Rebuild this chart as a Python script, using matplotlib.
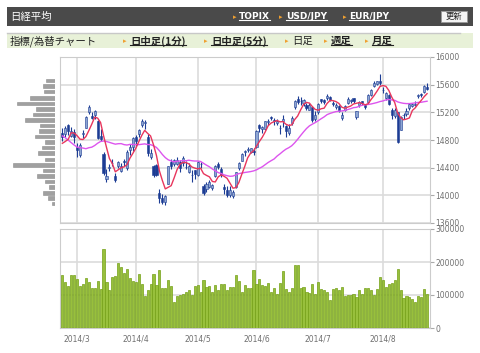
import numpy as np
import pandas as pd
import matplotlib
matplotlib.use('Agg')
import matplotlib.pyplot as plt
from matplotlib.patches import Rectangle
from matplotlib.lines import Line2D

plt.rcParams['font.family'] = ['DejaVu Sans']
JP = ['Noto Sans CJK JP', 'DejaVu Sans']

# Nikkei 225 daily, 2014-02-24 .. 2014-08-22
holidays = ['2014-03-21', '2014-04-29', '2014-05-05', '2014-05-06', '2014-07-21']

# closes of the 24 sessions before the first candle (for the moving averages)
prior_close = [15641, 15795, 15820, 15695, 15391, 14972, 15006, 15384, 14915, 14915,
               14619, 14008, 14181, 14155, 14463, 14719, 14800, 14535, 14313, 14393,
               14843, 14766, 14450, 14865]

opens = [14900, 14890, 15010, 14860, 14920,
         14700, 14590, 14890, 14980, 15210, 15150, 15160, 15080, 14860, 14600,
         14240, 14390, 14470, 14280, 14420, 14350, 14500, 14390, 14650, 14700,
         14840, 14880, 15010, 15040, 14850, 14560, 14430, 14440, 14040, 13960,
         13900, 14170, 14480, 14460, 14450, 14480, 14470, 14410, 14340, 14290, 14360,
         14290, 14460, 14140, 14090, 14120, 14110, 14280, 14460, 14380, 14120,
         14080, 14000, 13990, 14120, 14390, 14500, 14630, 14660, 14630, 14640,
         14700, 15010, 14960, 14960, 15060, 15130, 15090, 15040, 14980, 15070,
         15000, 14900, 15050, 15270, 15390, 15360, 15340, 15310, 15240, 15280, 15100,
         15200, 15390, 15380, 15400, 15420, 15330, 15270, 15290, 15120, 15230,
         15340, 15370, 15400, 15130, 15300, 15360, 15310, 15350, 15450, 15580, 15610, 15660,
         15530, 15400, 15450, 15240, 15150, 15200, 14950, 15160, 15170, 15260,
         15290, 15300, 15440, 15470, 15490, 15570]
highs = [14980, 15000, 15030, 14990, 14960,
         14760, 14760, 14950, 15140, 15310, 15200, 15230, 15090, 14960, 14620,
         14380, 14460, 14520, 14320, 14500, 14470, 14520, 14650, 14740, 14850,
         14870, 14960, 15100, 15090, 14880, 14670, 14440, 14450, 14090, 14020,
         14000, 14420, 14520, 14530, 14560, 14510, 14570, 14500, 14470, 14370, 14370,
         14500, 14480, 14160, 14200, 14220, 14170, 14440, 14480, 14410, 14160,
         14140, 14130, 14080, 14340, 14480, 14610, 14660, 14700, 14690, 14690,
         14940, 15030, 15000, 15080, 15100, 15150, 15120, 15110, 15010, 15160,
         15010, 15030, 15140, 15380, 15440, 15420, 15390, 15330, 15340, 15290, 15220,
         15340, 15400, 15390, 15460, 15430, 15360, 15330, 15300, 15200, 15310,
         15420, 15400, 15410, 15220, 15360, 15370, 15320, 15470, 15540, 15650, 15660, 15760,
         15560, 15500, 15470, 15260, 15260, 15210, 15140, 15190, 15260, 15330,
         15330, 15360, 15460, 15480, 15590, 15620]
lows = [14780, 14840, 14870, 14840, 14760,
        14560, 14560, 14830, 14970, 15180, 15100, 15110, 14810, 14780, 14300,
        14200, 14350, 14420, 14200, 14400, 14340, 14420, 14360, 14590, 14640,
        14720, 14840, 14990, 14960, 14570, 14530, 14260, 14280, 13890, 13880,
        13860, 14160, 14380, 14420, 14440, 14340, 14420, 14380, 14320, 14190, 14240,
        14280, 14400, 14000, 14050, 14100, 14080, 14270, 14380, 14260, 14020,
        13980, 13970, 13960, 14110, 14370, 14490, 14570, 14630, 14610, 14590,
        14690, 14920, 14900, 14940, 15010, 15090, 15020, 15010, 14880, 14990,
        14850, 14870, 15020, 15250, 15320, 15310, 15290, 15240, 15230, 15060, 15070,
        15180, 15330, 15320, 15380, 15360, 15290, 15250, 15200, 15090, 15220,
        15320, 15340, 15340, 15100, 15280, 15300, 15250, 15340, 15430, 15560, 15590, 15600,
        15480, 15380, 15300, 15100, 15120, 14750, 14940, 15100, 15150, 15240,
        15270, 15290, 15410, 15420, 15480, 15520]
closes = [14837, 14976, 14923, 14924, 14841,
          14652, 14721, 14897, 15134, 15274, 15120, 15224, 14830, 14815, 14327,
          14277, 14411, 14462, 14224, 14475, 14423, 14477, 14622, 14696, 14827,
          14791, 14946, 15071, 15063, 14606, 14607, 14299, 14300, 13960, 13910,
          13996, 14417, 14417, 14516, 14512, 14388, 14546, 14404, 14429, 14288, 14304,
          14485, 14457, 14033, 14163, 14199, 14149, 14425, 14405, 14298, 14097,
          14006, 14075, 14042, 14337, 14462, 14602, 14636, 14670, 14681, 14632,
          14935, 14975, 14985, 15069, 15077, 15124, 15069, 15069, 14973, 15097,
          14933, 14975, 15115, 15361, 15349, 15369, 15376, 15266, 15308, 15095, 15162,
          15326, 15369, 15348, 15437, 15379, 15314, 15302, 15216, 15164, 15297,
          15395, 15379, 15370, 15215, 15343, 15328, 15284, 15457, 15529, 15618, 15646, 15620,
          15523, 15474, 15320, 15160, 15232, 14778, 15130, 15161, 15213, 15314,
          15318, 15322, 15449, 15454, 15586, 15539]
volume = [161, 140, 128, 161, 161, 148, 126, 134, 151, 139, 122, 120, 143, 118, 239,
          139, 116, 155, 159, 196, 186, 168, 180, 151, 143, 140, 164, 134, 98, 114,
          133, 164, 131, 176, 122, 122, 145, 128, 79, 98, 101, 104, 108, 116, 101,
          126, 131, 110, 145, 125, 127, 110, 131, 114, 134, 133, 116, 125, 123, 161,
          143, 108, 131, 122, 122, 176, 133, 147, 131, 128, 136, 108, 122, 102, 135,
          174, 119, 108, 121, 190, 190, 121, 125, 110, 106, 133, 104, 139, 119, 116,
          110, 86, 118, 121, 114, 125, 98, 101, 101, 104, 94, 116, 102, 122, 121,
          116, 101, 119, 156, 145, 125, 133, 137, 145, 179, 116, 92, 98, 94, 89,
          80, 96, 94, 119, 104]
volume = [v * 1000 for v in volume]

# price-band volume profile on the left
profile_price = [15660, 15580, 15500, 15410, 15330, 15250, 15170, 15090, 15010, 14930,
                 14850, 14770, 14690, 14610, 14520, 14440, 14360, 14280, 14200, 14120,
                 14030, 13960, 13880]
profile_vol = [9, 11.7, 10.7, 25, 37.7, 19, 21.7, 30.3, 15, 16.3, 19.7, 10.3, 13, 17,
               9.7, 41.7, 11.7, 18.3, 9.7, 6, 11.7, 7.3, 3.3]

days = pd.bdate_range('2014-02-24', '2014-08-22')
days = days[~days.isin(pd.to_datetime(holidays))]
x = np.arange(len(days))
month_pos = [i for i in range(1, len(days)) if days[i].month != days[i - 1].month]
month_lab = [f"{days[i].year}/{days[i].month}" for i in month_pos]

all_close = pd.Series(prior_close + closes, dtype=float)
ma5 = all_close.rolling(5).mean().iloc[len(prior_close):].values
ma25 = all_close.rolling(25).mean().iloc[len(prior_close):].values

W, H = 480, 353
fig = plt.figure(figsize=(W / 100, H / 100), dpi=100)
fig.patch.set_facecolor('white')

def fx(px):
    return px / W

def fy(py):
    return 1 - py / H

grid_c = '#dcdcdc'
lab_c = '#707070'

def style(a):
    for s in a.spines.values():
        s.set_color('#cccccc')
    a.grid(True, color=grid_c, linewidth=1.2)
    a.set_axisbelow(True)
    a.yaxis.tick_right()
    a.tick_params(axis='y', length=3, width=0.8, color='#aaaaaa', labelsize=5.5,
                  labelcolor=lab_c, pad=1)
    a.set_xlim(-0.8, 125)
    a.set_xticks(month_pos)

# ---- price panel
ax = fig.add_axes([fx(60), fy(223), 370 / W, 166 / H])
style(ax)
ax.set_ylim(13600, 16000)
ax.set_yticks(range(13600, 16001, 400))
ax.tick_params(axis='x', length=0, labelbottom=False)

o = np.array(opens); c = np.array(closes)
up = c >= o
dark = '#1c3c94'
light = '#8ea6d2'
ax.vlines(x, lows, highs, color=dark, linewidth=0.8, zorder=2)
ax.bar(x, np.abs(c - o), bottom=np.minimum(o, c), width=0.72,
       color=np.where(up, light, dark), edgecolor=dark, linewidth=0.4, zorder=3)
ax.plot(x, ma25, color='#dd55ee', linewidth=1.0, zorder=4)
ax.plot(x, ma5, color='#e8365d', linewidth=1.0, zorder=5)

# ---- volume profile
axp = fig.add_axes([0, fy(223), fx(55), 166 / H])
axp.barh(profile_price, profile_vol, height=52, color='#a0a0a0', edgecolor='#8c8c8c',
         linewidth=0.4)
axp.set_xlim(55, 0)
axp.set_ylim(13600, 16000)
axp.axis('off')

# ---- volume panel
axv = fig.add_axes([fx(60), fy(328), 370 / W, 99 / H])
style(axv)
axv.set_ylim(0, 300000)
axv.set_yticks([0, 100000, 200000, 300000])
axv.bar(x, volume, width=0.72, color='#98c03c', edgecolor='#74a016', linewidth=0.5,
        zorder=3)
axv.set_xticklabels(month_lab)
axv.tick_params(axis='x', length=0, labelsize=5.5, labelcolor=lab_c, pad=5)

# ---- header
fig.add_artist(Rectangle((fx(7), fy(26)), fx(466), 19 / H, transform=fig.transFigure,
                         facecolor='#4a4a4a', edgecolor='none'))
fig.text(fx(10), fy(16.5), '日経平均', color='white', fontsize=7.5, family=JP,
         va='center', ha='left')

links = []
for tx, lx, s in [(233, 239, 'TOPIX'), (279, 286, 'USD/JPY'), (343, 349, 'EUR/JPY')]:
    fig.text(fx(tx), fy(17), '▸', color='#f0a030', fontsize=5, va='center')
    links.append((fig.text(fx(lx), fy(16.5), s, color='white', fontsize=6.5,
                           fontweight='bold', va='center'), 'white'))

fig.add_artist(Rectangle((fx(441), fy(22)), fx(26), 11 / H, transform=fig.transFigure,
                         facecolor='#f4f4f4', edgecolor='#999999', linewidth=0.6))
fig.text(fx(454), fy(16.8), '更新', color='#222222', fontsize=6, family=JP,
         va='center', ha='center')

# second row
fig.add_artist(Rectangle((fx(7), fy(48)), fx(466), 15 / H, transform=fig.transFigure,
                         facecolor='#e8f1d8', edgecolor='none'))
fig.add_artist(Line2D([fx(7), fx(460)], [fy(33), fy(33)], transform=fig.transFigure,
                      color='#c8c8c8', linewidth=1))
fig.text(fx(10), fy(41), '指標/為替チャート', color='#222222', fontsize=7.5, family=JP,
         va='center')
for tx, lx, s, ul in [(123, 130, '日中足(1分)', True), (204, 211, '日中足(5分)', True),
                      (285, 292, '日足', False), (324, 331, '週足', True),
                      (365, 372, '月足', True)]:
    fig.text(fx(tx), fy(41), '▸', color='#f0a030', fontsize=5, va='center')
    t = fig.text(fx(lx), fy(41), s, color='#222222', fontsize=7.5, family=JP,
                 fontweight='bold' if ul else 'normal', va='center')
    if ul:
        links.append((t, '#222222'))

r = fig.canvas.get_renderer()
for t, col in links:
    bb = t.get_window_extent(r)
    yb = bb.y0 + 1.5
    fig.add_artist(Line2D([bb.x0 / W, bb.x1 / W], [yb / H, yb / H],
                          transform=fig.transFigure, color=col, linewidth=0.8))

fig.savefig('out.png', dpi=100, facecolor='white')
